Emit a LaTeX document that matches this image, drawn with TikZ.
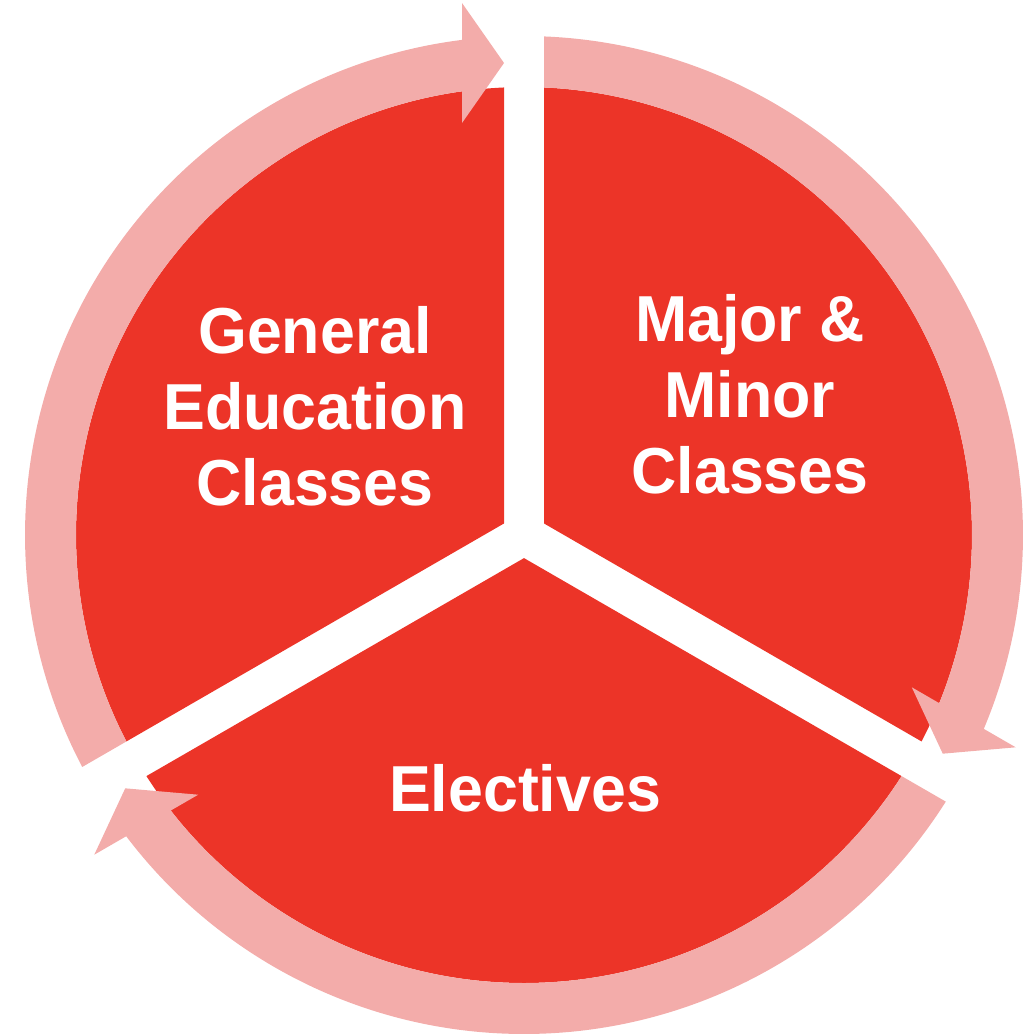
\documentclass[tikz,border=0pt]{standalone}
\usepackage{fontspec}
\setmainfont{Liberation Sans}
\newfontfamily\lblfont[FakeStretch=0.965]{Liberation Sans}
\definecolor{secred}{HTML}{EC3428}
\definecolor{ringpink}{HTML}{F3ACAA}
\begin{document}
\begin{tikzpicture}[x=1pt,y=1pt,
  sector/.style={fill=secred,draw=none},
  ringarrow/.style={fill=ringpink,draw=none},
  lbl/.style={text=white,font=\lblfont\fontsize{65}{76}\selectfont\bfseries,align=center,inner sep=0pt}]
\useasboundingbox (0,0) rectangle (1035,-1036);
\coordinate (c) at (524,-535);
% red sectors
\foreach \a in {-30,90,210}{
  \begin{scope}[shift={(c)},rotate=\a]
    \fill[sector] (60:23.09pt) -- (2.559:448pt)
      arc[start angle=2.559,end angle=117.441,radius=448pt] -- cycle;
  \end{scope}}
% ring arrows
\foreach \a in {-30,90,210}{
  \begin{scope}[shift={(c)},rotate=\a]
    \fill[ringarrow] (117.703:499pt)
      arc[start angle=117.703,end angle=7.138,radius=499pt]
      -- (532pt,62pt) -- (472pt,20pt) -- (412pt,62pt)
      -- (7.955:448pt)
      arc[start angle=7.955,end angle=117.441,radius=448pt] -- cycle;
  \end{scope}}
% labels
\node[lbl] (gen) at (315,-406.5) {General\\Education\\Classes};
\node[lbl] (maj) at (750,-394.5) {Major \&\\Minor\\Classes};
\node[lbl] (ele) at (525,-788) {Electives};
\end{tikzpicture}
\end{document}
